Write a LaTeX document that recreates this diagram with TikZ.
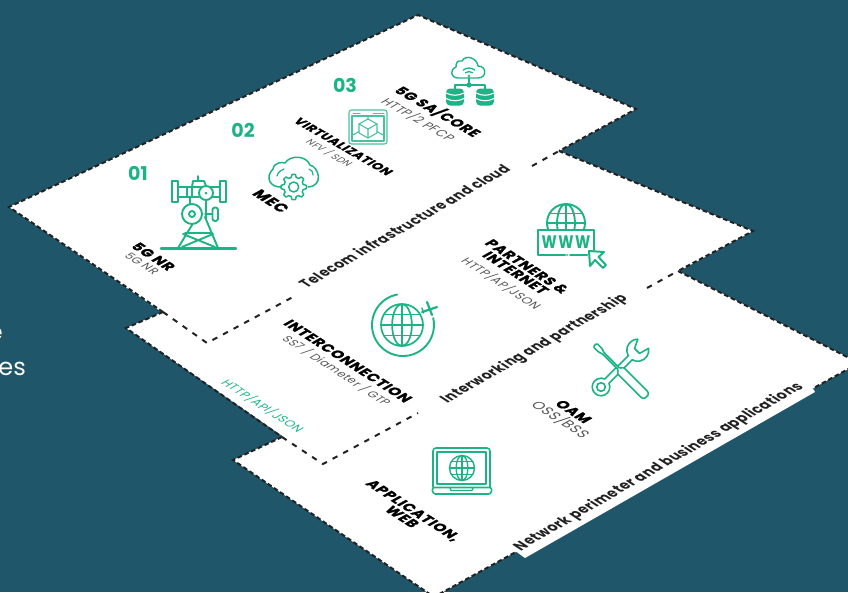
\documentclass[tikz,border=0pt]{standalone}
\usepackage{fontspec}
\setmainfont{Poppins}
\newfontfamily\titlefont[BoldFeatures={FakeBold=1.2,LetterSpace=6,FakeStretch=1.12}]{Poppins}
\newfontfamily\subfont[LetterSpace=5,FakeStretch=1.1]{Poppins}
\usetikzlibrary{%
  shapes,%
  positioning%
}
\definecolor{deepsea}{HTML}{1F5669}
\definecolor{leaf}{HTML}{1CB385}
\definecolor{ink}{HTML}{222222}
\definecolor{softink}{HTML}{555555}

\newcommand{\drawglobe}[3]{%
  \draw[iconline,#3] (#1) circle (#2pt);
  \draw[iconline,#3] (#1) ellipse ({0.47*#2pt} and #2pt);
  \draw[iconline,#3] (#1) ++(-#2pt,0pt) -- ++({2*#2pt},0pt);
  \draw[iconline,#3] (#1) ++(0pt,-#2pt) -- ++(0pt,{2*#2pt});
  \draw[iconline,#3] (#1) ++({-0.87*#2pt},{0.5*#2pt}) -- ++({1.74*#2pt},0pt);
  \draw[iconline,#3] (#1) ++({-0.87*#2pt},{-0.5*#2pt}) -- ++({1.74*#2pt},0pt);
}

\begin{document}
\begin{tikzpicture}[x=1pt,y=-1pt,
  downtext/.style = {transform shape, cm={.84,-.545,1.0,.56,(0,0)},
    inner sep=0pt, align=center},
  flattext/.style = {transform shape, cm={.866,-.5,1.0,.58,(0,0)},
    inner sep=0pt, align=center},
  uptext/.style = {transform shape, cm={.866,.5,-1.0,.65,(0,0)},
    inner sep=0pt, align=center},
  sheet/.style = {fill=white, draw=none},
  edgedash/.style = {draw=ink, line width=2pt, dash pattern=on 4.6pt off 2.8pt},
  innerdash/.style = {draw=ink, line width=2pt, dash pattern=on 5.5pt off 6.5pt},
  titlelook/.style = {text=black, font=\titlefont\bfseries\fontsize{12.5}{11.5}\selectfont},
  sublook/.style = {text=softink, font=\subfont\fontsize{10.2}{12}\selectfont},
  titlelabel/.style = {downtext, titlelook},
  sublabel/.style = {downtext, sublook},
  bandlabel/.style = {uptext, text=ink, font=\bfseries\fontsize{12.9}{15}\selectfont\addfontfeature{LetterSpace=4}},
  numlabel/.style = {inner sep=0pt, text=leaf, font=\bfseries\fontsize{19}{20}\selectfont},
  iconline/.style = {draw=leaf, line width=1.9pt, line join=round, line cap=round}]

  \clip (0,0) rectangle (848,592);
  \fill[deepsea] (0,0) rectangle (848,592);

  \node[anchor=base east, inner sep=0pt, text=white, font=\fontsize{24}{26}\selectfont] (cute) at (3,340) {e};
  \node[anchor=base east, inner sep=0pt, text=white, font=\fontsize{24}{26}\selectfont] (cutes) at (26,375) {es};

  \coordinate (topleft) at (9,207);
  \coordinate (toptop) at (418,15);
  \coordinate (topright) at (636,109);
  \coordinate (topbottom) at (207,343);
  \coordinate (midleft) at (126,328);
  \coordinate (midjoin) at (163,312);
  \coordinate (midtop) at (559,151);
  \coordinate (midright) at (753,231);
  \coordinate (midbottom) at (323,464);
  \coordinate (lowleft) at (233,460);
  \coordinate (lowjoin) at (282,437);
  \coordinate (lowtop) at (678,271);
  \coordinate (lowright) at (859,363);
  \coordinate (lowbottom) at (434,597);
  \coordinate (lowend) at (850,368);

  \path[sheet] (lowleft) -- (lowjoin) -- (midtop) -- (lowtop) -- (lowright) -- (lowbottom) -- cycle;
  \path[sheet] (midleft) -- (midjoin) -- (toptop) -- (midtop) -- (midright) -- (midbottom) -- cycle;
  \path[sheet] (topleft) -- (toptop) -- (topright) -- (topbottom) -- cycle;

  \draw[edgedash] (lowjoin) -- (lowleft) -- (lowbottom) -- (lowend);
  \draw[edgedash] (lowtop) -- (lowright);
  \draw[edgedash] (midjoin) -- (midleft) -- (lowjoin);
  \draw[edgedash] (midtop) -- (midright) -- (lowtop);
  \draw[edgedash] (midjoin) -- (topleft) -- (toptop) -- (topright) -- (midtop);

  \coordinate (topdashA) at (293,297);
  \coordinate (topdashB) at (532,166);
  \coordinate (middashA) at (418,413);
  \coordinate (middashB) at (647,288);
  \draw[innerdash] (midjoin) -- (topbottom) -- (topdashA);
  \draw[innerdash] (topdashB) -- (midtop);
  \draw[innerdash] (lowjoin) -- (midbottom) -- (middashA);
  \draw[innerdash] (middashB) -- (lowtop);

  % strip under the lowest band
  \fill[white] (511,548) -- (811,385) -- (815,392) -- (525,558) -- cycle;

  \node[numlabel] (numA) at (138,173) {01};
  \node[numlabel] (numB) at (243,130) {02};
  \node[numlabel] (numC) at (345,85) {03};

  \node[titlelabel] (nrtitle) at (153.5,256.5) {5G NR};
  \node[sublabel] (nrsub) at (142,263.5) {5G NR};
  \node[titlelabel, font=\titlefont\bfseries\fontsize{13.5}{14}\selectfont] (mectitle) at (271,201) {MEC};
  \node[flattext, titlelook, font=\titlefont\bfseries\fontsize{10.8}{12}\selectfont] (virttitle) at (343.5,146.5) {VIRTUALIZATION};
  \node[flattext, sublook, font=\subfont\fontsize{8.6}{10}\selectfont] (virtsub) at (329.5,153) {NFV / SDN};
  \node[flattext, titlelook] (coretitle) at (438,111.5) {5G SA/CORE};
  \node[flattext, sublook, font=\subfont\fontsize{11}{12}\selectfont] (coresub) at (418.5,119.5) {HTTP/2 PFCP};
  \node[titlelabel] (intertitle) at (348,361) {INTERCONNECTION};
  \node[sublabel] (intersub) at (337,370.5) {SS7 / Diameter / GTP};
  \node[sublabel, text=leaf, font=\subfont\fontsize{10.5}{12}\selectfont] (apisub) at (263,406) {HTTP/API/JSON};
  \node[titlelabel] (parttitle) at (521.5,269.5) {PARTNERS \&\\INTERNET};
  \node[sublabel, font=\subfont\fontsize{10.5}{12}\selectfont] (partsub) at (501.5,283.5) {HTTP/AP/JSON};
  \node[titlelabel] (oamtitle) at (573.5,411.5) {OAM};
  \node[sublabel, font=\subfont\fontsize{12.5}{14}\selectfont] (oamsub) at (561,419.5) {OSS/BSS};
  \node[titlelabel] (apptitle) at (408,513.5) {APPLICATION,\\WEB};

  \node[bandlabel] (bandA) at (404,226) {Telecom infrastructure and cloud};
  \node[bandlabel] (bandB) at (534.5,349) {Interworking and partnership};
  \node[bandlabel, font=\bfseries\fontsize{13.1}{15}\selectfont\addfontfeature{LetterSpace=4}] (bandC) at (659,467) {Network perimeter and business applications};

  % tower
  \draw[iconline, line width=2.4pt] (161,248.5) -- (236,248.5);
  \draw[iconline] (178,248) -- (192,225) (218,248) -- (205,217);
  \draw[iconline] (185,233) -- (212,233) (182,247) -- (213,234) (215,247) -- (183,234);
  \draw[iconline, fill=white] (192,214) circle (10pt);
  \draw[iconline] (192,214) circle (3pt);
  \draw[iconline] (172,181) rectangle (178,202) (220,181) rectangle (226,202);
  \draw[iconline] (178,187) -- (220,187) (178,197) -- (199,197) (212,197) -- (220,197);
  \draw[iconline] (187,187) -- (187,197) (192,187) -- (192,197);
  \draw[iconline] (192,187) -- (193,181) -- (204,181) -- (206,186) (198,181) -- (198,176);
  \draw[iconline] (190,197) -- (190,204) (206,200) -- (206,219);
  \draw[iconline, fill=white] (206,193) circle (7pt);
  \fill[leaf] (206,193) circle (1.5pt);
  \draw[iconline] (205,214) -- (212,214);
  \draw[iconline, rounded corners=2.4pt] (212.5,207.5) rectangle (218,221);

  % cloud with gear
  \draw[iconline, line width=1.5pt] (282,187) .. controls (271,188) and (264,178) .. (273,169) .. controls (274,162) and (283,162) .. (285,163) .. controls (290,155) and (306,155) .. (310,165) .. controls (319,167) and (324,186) .. (308,187);
  \draw[iconline, line width=1.2pt] (277,176) .. controls (278,172) and (281,170) .. (284,169);
  \draw[iconline, line width=1.2pt] (309,169) .. controls (312,170) and (313,172) .. (313,175);
  \draw[iconline, line width=1.5pt, fill=white] plot[domain=0:360, samples=97, shift={(293.7,187)}] (\x:{11.2+1.4*sign(cos(8*\x))}) -- cycle;
  \draw[iconline, line width=1.5pt] (293.7,187) circle (5pt);

  % browser with cube
  \draw[iconline, line width=1.1pt, draw=leaf!80, rounded corners=2.5pt] (349,110) rectangle (387,144);
  \draw[iconline, line width=1.1pt, draw=leaf!80] (352,116) rectangle (384,141);
  \draw[iconline, line width=1.1pt, draw=leaf!80] (368,119) -- (377,124) -- (377,133) -- (368,138) -- (359,133) -- (359,124) -- cycle;
  \draw[iconline, line width=1.1pt, draw=leaf!80] (359,124) -- (368,129) -- (377,124) (368,129) -- (368,138);
  \draw[iconline, line width=1.1pt, draw=leaf!80] (368,116) -- (368,119) (353,135) -- (359,131.5) (383,135) -- (377,131.5);
  \draw[iconline, line width=1pt, draw=leaf!80] (373,113) -- (384,113) (353,113) -- (360,113);

  % cloud with databases
  \draw[iconline, line width=1.4pt] (458,78) -- (478,78) .. controls (487,78) and (487,66) .. (478,66) .. controls (477,58) and (466,54) .. (462,61) .. controls (457,60) and (456,63) .. (456,67) .. controls (449,70) and (451,78) .. (458,78) -- cycle;
  \draw[iconline, line width=1.3pt] (469,77) ++(50:9pt) arc[start angle=50, end angle=130, radius=9pt];
  \draw[iconline, line width=1.3pt] (469,77) ++(50:5.5pt) arc[start angle=50, end angle=130, radius=5.5pt];
  \fill[leaf] (469,76) circle (1.4pt);
  \draw[iconline, line width=1.3pt] (469,78) -- (469,85) (455,89) -- (455,85) -- (485,85) -- (485,89);
  \fill[leaf] (469,85) circle (2.6pt);
  \foreach \cx in {455,485} {
    \fill[leaf, rounded corners=4pt] ({\cx-9},88.5) rectangle ({\cx+9},105.5);
    \draw[white, line width=1.1pt] ({\cx-9},93) .. controls ({\cx-3},96) and ({\cx+3},96) .. ({\cx+9},93);
    \draw[white, line width=1.1pt] ({\cx-9},98.5) .. controls ({\cx-3},101.5) and ({\cx+3},101.5) .. ({\cx+9},98.5);
  }

  % globe with plane
  \drawglobe{402,325}{21}{line width=1.7pt}
  \draw[iconline] (403,325) ++(101:31pt) arc[start angle=101, end angle=373, radius=31pt];
  \draw[iconline, line width=2.2pt] (422,312) -- (437,307) (427,302) -- (432,315);
  \draw[iconline, line width=1.4pt] (422,308) -- (423.5,313);

  % www
  \begin{scope}
    \clip (540,200) rectangle (592,229);
    \drawglobe{566,223}{19}{line width=1.9pt}
  \end{scope}
  \draw[iconline, line width=2pt] (594,250) -- (594,230) -- (538,230) -- (538,255) -- (565,255);
  \draw[iconline, line width=2pt] (570,255) -- (587,255);
  \fill[leaf] (567.2,255) circle (1pt);
  \node[inner sep=0pt, text=leaf, transform shape, yscale=1.25, font=\bfseries\fontsize{14.5}{15}\selectfont\addfontfeature{LetterSpace=10}] (wwwtext) at (566,242) {WWW};
  \draw[iconline, line width=2pt, fill=white] (589,251) -- (604,252) -- (598.5,257) -- (606,265) -- (603,268) -- (595,260) -- (590,266) -- cycle;

  % tools
  \begin{scope}[shift={(601,387)},x=1pt,y=1pt,rotate=45]
    \draw[iconline, line width=1.6pt, fill=white] (8.3,3) -- (41.4,2.85) arc[start angle=165, end angle=45, radius=11pt] -- (51,3.5) -- (51,-3.5) -- (61,-6.3) arc[start angle=-35, end angle=-165, radius=11pt] -- (8.3,-3) arc[start angle=-20, end angle=-340, radius=8.8pt] -- cycle;
    \draw[iconline, line width=1.6pt] (0,0) circle (4.3pt);
  \end{scope}
  \begin{scope}[shift={(595,345)},x=1pt,y=1pt,rotate=-45]
    \draw[iconline, line width=1.6pt, rounded corners=1.2pt, fill=white] (0,2.5) -- (8,2.5) -- (11,1) -- (34,1) -- (36,4.5) -- (70,4.5) -- (73,3) -- (73,-3) -- (70,-4.5) -- (36,-4.5) -- (34,-1) -- (11,-1) -- (8,-2.5) -- (0,-2.5) -- cycle;
  \end{scope}

  % laptop
  \draw[iconline, line width=1.6pt, rounded corners=3pt] (433,487) -- (433,448) -- (490,448) -- (490,487);
  \draw[iconline, line width=1.6pt] (437,484) rectangle (486,452);
  \draw[iconline, line width=1.6pt, rounded corners=2.5pt] (432,487.5) -- (492,487.5) -- (491,494) -- (433,494) -- cycle;
  \draw[iconline, line width=1.3pt] (450,488) -- (451,490.5) -- (472,490.5) -- (473,488);
  \drawglobe{462,468}{12.5}{line width=1.4pt}

\end{tikzpicture}
\end{document}
